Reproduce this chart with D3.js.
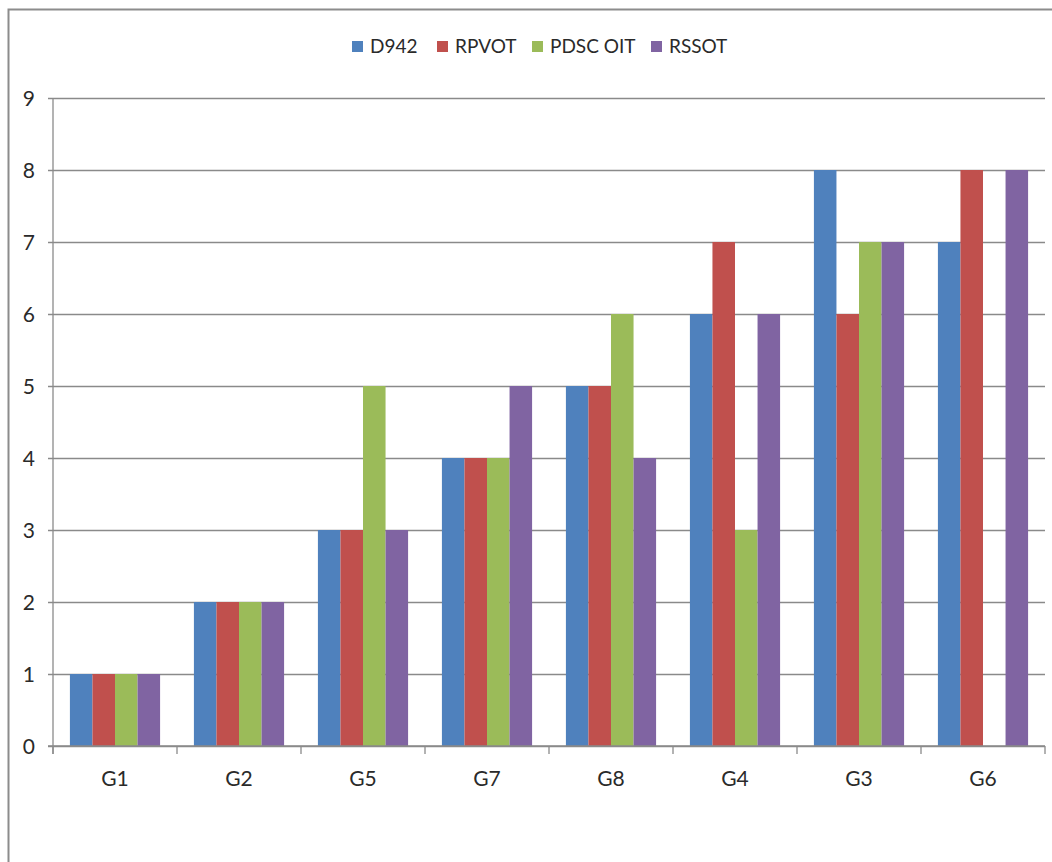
<!DOCTYPE html>
<html>
<head>
<meta charset="utf-8">
<script src="https://cdn.jsdelivr.net/npm/d3@7"></script>
<style>
  html, body { margin: 0; padding: 0; background: #fff; }
  svg { display: block; }
  text { font-family: Lato, "Open Sans", "Liberation Sans", sans-serif; fill: #2a2a2a; }
</style>
</head>
<body>
<svg id="chart" width="1052" height="862"></svg>
<script>
// Category order along the x axis
const categories = ["G1", "G2", "G5", "G7", "G8", "G4", "G3", "G6"];

// Series names and colours
const seriesNames = ["D942", "RPVOT", "PDSC OIT", "RSSOT"];
const seriesColors = ["#4F81BD", "#C0504D", "#9BBB59", "#8064A2"];

// Values per series, one per category (null = no bar)
const d942    = [1, 2, 3, 4, 5, 6, 8, 7];
const rpvot   = [1, 2, 3, 4, 5, 7, 6, 8];
const pdscOit = [1, 2, 5, 4, 6, 3, 7, null];
const rssot   = [1, 2, 3, 5, 4, 6, 7, 8];

// Y axis ticks
const yTicks = [0, 1, 2, 3, 4, 5, 6, 7, 8, 9];

const seriesValues = [d942, rpvot, pdscOit, rssot];

const svg = d3.select("#chart");

// Plot frame
const plot = { left: 53, right: 1045, top: 98, bottom: 746 };

// Outer chart border (top and left edges visible)
svg.append("path")
  .attr("d", `M8.5,862 L8.5,9.5 L1052,9.5`)
  .attr("fill", "none")
  .attr("stroke", "#8c8c8c")
  .attr("stroke-width", 2);

const x0 = d3.scaleBand()
  .domain(categories)
  .range([plot.left, plot.right])
  .padding(0);

const x1 = d3.scaleBand()
  .domain(seriesNames)
  .range([0, x0.bandwidth()])
  .paddingInner(0)
  .paddingOuter(0.75);

const y = d3.scaleLinear()
  .domain([0, 9])
  .range([plot.bottom, plot.top]);

const color = d3.scaleOrdinal().domain(seriesNames).range(seriesColors);

// Horizontal gridlines with tick marks via the axis
const yAxis = d3.axisLeft(y)
  .tickValues(yTicks)
  .tickSize(-(plot.right - plot.left))
  .tickSizeOuter(0)
  .tickPadding(0)
  .tickFormat("");

const gy = svg.append("g")
  .attr("transform", `translate(${plot.left},0)`)
  .call(yAxis);
gy.select(".domain").remove();
gy.selectAll(".tick line")
  .attr("x1", -5)
  .attr("stroke", "#8a8a8a")
  .attr("stroke-width", 1.3);

// Y tick labels
svg.append("g").selectAll("text")
  .data(yTicks)
  .join("text")
  .attr("x", 35)
  .attr("y", d => y(d))
  .attr("dy", "0.36em")
  .attr("text-anchor", "end")
  .attr("font-size", 21)
  .text(d => d);

// Bars
const rows = categories.map((c, i) => ({
  cat: c,
  vals: seriesNames.map((s, j) => ({ series: s, value: seriesValues[j][i] }))
}));

svg.append("g").selectAll("g")
  .data(rows)
  .join("g")
  .attr("transform", d => `translate(${x0(d.cat)},0)`)
  .selectAll("rect")
  .data(d => d.vals.filter(v => v.value != null))
  .join("rect")
  .attr("x", d => x1(d.series))
  .attr("width", x1.bandwidth())
  .attr("y", d => y(d.value))
  .attr("height", d => y(0) - y(d.value))
  .attr("fill", d => color(d.series));

// Y axis line
svg.append("line")
  .attr("x1", plot.left).attr("x2", plot.left)
  .attr("y1", plot.top).attr("y2", plot.bottom + 8)
  .attr("stroke", "#8a8a8a")
  .attr("stroke-width", 1.3);

// X axis with category boundary ticks
const xAxisLine = svg.append("g");
xAxisLine.append("line")
  .attr("x1", plot.left - 5).attr("x2", plot.right)
  .attr("y1", plot.bottom).attr("y2", plot.bottom)
  .attr("stroke", "#8a8a8a")
  .attr("stroke-width", 1.3);
const boundaries = categories.map(c => x0(c)).concat([x0(categories[categories.length - 1]) + x0.bandwidth()]);
xAxisLine.selectAll("line.bt")
  .data(boundaries)
  .join("line")
  .attr("class", "bt")
  .attr("x1", d => d).attr("x2", d => d)
  .attr("y1", plot.bottom).attr("y2", plot.bottom + 8)
  .attr("stroke", "#8a8a8a")
  .attr("stroke-width", 1.3);

// Category labels
svg.append("g").selectAll("text")
  .data(categories)
  .join("text")
  .attr("x", d => x0(d) + x0.bandwidth() / 2)
  .attr("y", 786)
  .attr("text-anchor", "middle")
  .attr("font-size", 21)
  .text(d => d);

// Legend
const legendX = [352, 437, 532, 651];
const legend = svg.append("g");
seriesNames.forEach((s, i) => {
  legend.append("rect")
    .attr("x", legendX[i]).attr("y", 41)
    .attr("width", 11).attr("height", 11)
    .attr("fill", seriesColors[i]);
  legend.append("text")
    .attr("x", legendX[i] + 18).attr("y", 53)
    .attr("font-size", 19)
    .text(s);
});
</script>
</body>
</html>
